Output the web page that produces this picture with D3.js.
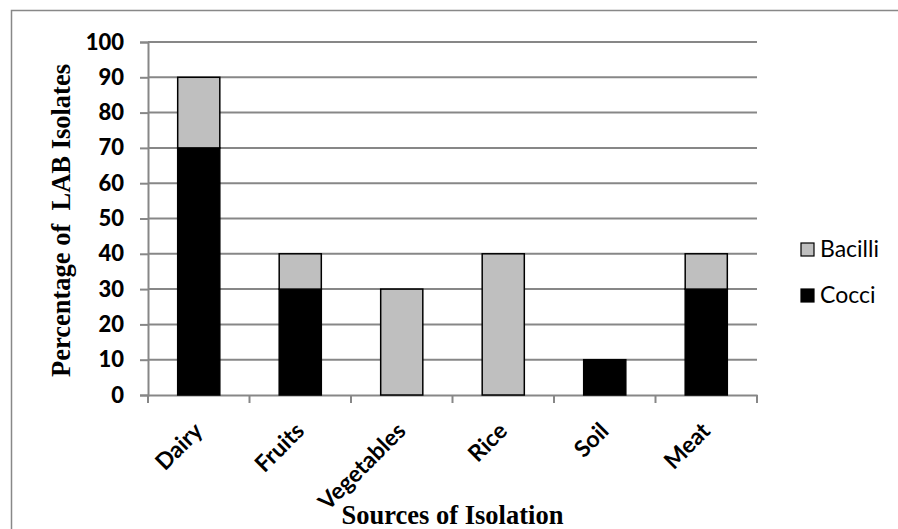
<!DOCTYPE html>
<html><head><meta charset="utf-8">
<script src="https://cdn.jsdelivr.net/npm/d3@7"></script>
<style>body{margin:0;background:#fff}</style>
</head><body>
<svg id="c" width="898" height="529"></svg>
<script>
const categories = ["Dairy","Fruits","Vegetables","Rice","Soil","Meat"];
const cocci   = [70, 30, 0, 0, 10, 30];
const bacilli = [20, 10, 30, 40, 0, 10];
const yTicks  = [0,10,20,30,40,50,60,70,80,90,100];
const seriesNames = ["Bacilli","Cocci"];

const svg = d3.select("#c");
const pL = 148, pR = 757, pT = 42, pB = 395;
const x = d3.scaleBand().domain(categories).range([pL, pR]).paddingInner(0.585).paddingOuter(0.2925);
const xc = d3.scaleBand().domain(categories).range([pL, pR]);
const y = d3.scaleLinear().domain([0,100]).range([pB, pT]);

// outer border
svg.append("path").attr("d","M11.5,529 V10.5 H898").attr("fill","none").attr("stroke","#888").attr("stroke-width",1.5);

// gridlines
svg.append("g").selectAll("line").data(yTicks.filter(d=>d>0)).join("line")
  .attr("x1",pL).attr("x2",pR).attr("y1",d=>y(d)).attr("y2",d=>y(d))
  .attr("stroke","#878787").attr("stroke-width",2);

// y axis
const ya = svg.append("g").attr("transform",`translate(${pL},0)`)
  .call(d3.axisLeft(y).tickValues(yTicks).tickSize(8).tickPadding(16));
ya.select(".domain").attr("stroke","#878787").attr("stroke-width",2);
ya.selectAll(".tick line").attr("stroke","#878787").attr("stroke-width",2);
ya.selectAll(".tick text").attr("font-family","Lato, sans-serif").attr("font-weight","900")
  .attr("font-size",22).attr("fill","#000");

// x axis
const xa = svg.append("g").attr("transform",`translate(0,${pB})`)
  .call(d3.axisBottom(xc).tickSize(0).tickFormat(""));
xa.select(".domain").attr("stroke","#878787").attr("stroke-width",2);
svg.append("g").selectAll("line").data(d3.range(categories.length+1)).join("line")
  .attr("x1",i=>pL+i*xc.step()).attr("x2",i=>pL+i*xc.step())
  .attr("y1",pB).attr("y2",pB+8).attr("stroke","#878787").attr("stroke-width",2);

// category labels
svg.append("g").selectAll("text").data(categories).join("text")
  .attr("transform",d=>`translate(${xc(d)+xc.bandwidth()/2-6},${pB+26}) rotate(-45)`)
  .attr("text-anchor","end").attr("dy","0.7em")
  .attr("font-family","Lato, sans-serif").attr("font-weight","bold").attr("font-size",23)
  .text(d=>d);

// bars
const g = svg.append("g");
categories.forEach((c,i)=>{
  if (cocci[i]>0) g.append("rect").attr("x",x(c)).attr("width",x.bandwidth())
    .attr("y",y(cocci[i])).attr("height",y(0)-y(cocci[i]))
    .attr("fill","#000").attr("stroke","#000").attr("stroke-width",1.5);
  if (bacilli[i]>0) g.append("rect").attr("x",x(c)).attr("width",x.bandwidth())
    .attr("y",y(cocci[i]+bacilli[i])).attr("height",y(cocci[i])-y(cocci[i]+bacilli[i]))
    .attr("fill","#bfbfbf").attr("stroke","#000").attr("stroke-width",1.5);
});

// axis titles
svg.append("text").attr("transform",`translate(70,${(pT+pB)/2+2}) rotate(-90)`)
  .attr("text-anchor","middle").attr("font-family","'Liberation Serif', 'Times New Roman', serif")
  .attr("font-weight","bold").attr("font-size",26.5)
  .style("white-space","pre").text("Percentage of  LAB Isolates");
svg.append("text").attr("x",(pL+pR)/2).attr("y",524)
  .attr("text-anchor","middle").attr("font-family","'Liberation Serif', 'Times New Roman', serif")
  .attr("font-weight","bold").attr("font-size",26.5).text("Sources of Isolation");

// legend
const legCol = {"Bacilli":"#bfbfbf","Cocci":"#000"};
const lg = svg.append("g").selectAll("g").data(seriesNames).join("g")
  .attr("transform",(d,i)=>`translate(801,${243+i*46})`);
lg.append("rect").attr("width",13).attr("height",13).attr("fill",d=>legCol[d])
  .attr("stroke","#000").attr("stroke-width",1.2);
lg.append("text").attr("x",19).attr("y",13.5).attr("font-family","Lato, sans-serif")
  .attr("font-size",23).text(d=>d);
</script>
</body></html>
